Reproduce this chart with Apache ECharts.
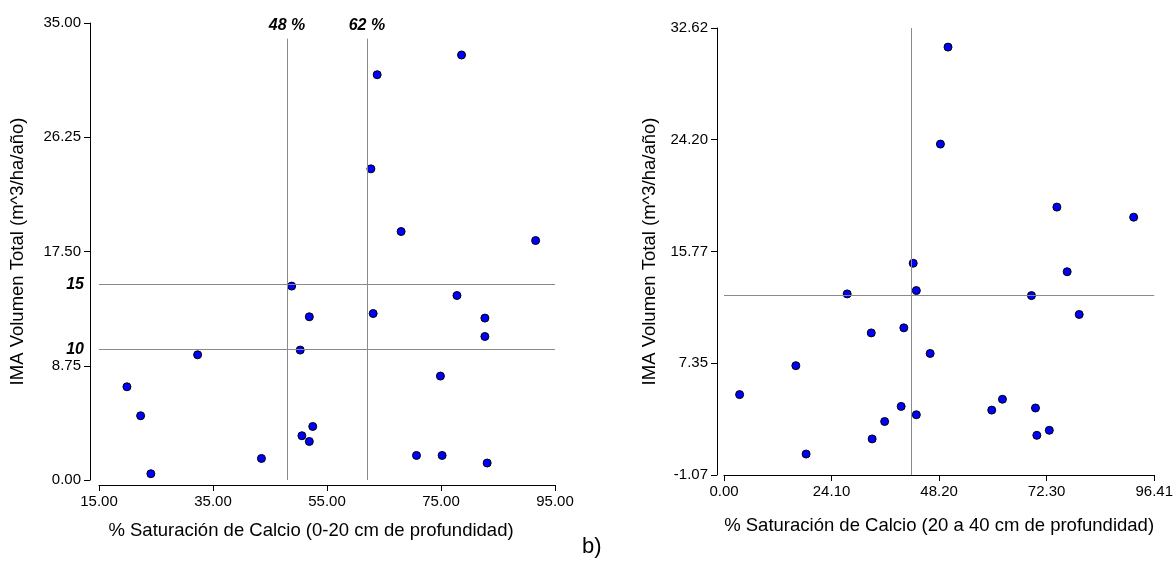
<!DOCTYPE html>
<html>
<head>
<meta charset="utf-8">
<script src="https://cdn.jsdelivr.net/npm/echarts@6/dist/echarts.min.js"></script>
<style>
html,body{margin:0;padding:0;background:#fff;}
#c{width:1176px;height:566px;}
</style>
</head>
<body>
<div id="c"></div>
<script>
// ---- Data ----
const leftX = [78.6, 63.8, 62.7, 68.0, 91.6, 48.8, 51.9, 63.1, 77.8, 82.7, 82.7, 50.3, 32.3, 19.9, 22.3, 24.1, 74.9, 52.5, 50.6, 51.9, 43.5, 70.7, 75.2, 83.1];
const leftY = [32.55, 31.04, 23.83, 19.03, 18.34, 14.85, 12.50, 12.75, 14.13, 12.40, 10.99, 9.95, 9.59, 7.14, 4.92, 0.48, 7.96, 4.10, 3.39, 2.95, 1.65, 1.88, 1.88, 1.30];
const rightX = [50.2, 48.5, 74.6, 91.8, 42.4, 76.9, 43.1, 27.6, 68.9, 79.6, 33.0, 40.3, 46.2, 16.1, 3.5, 39.7, 43.1, 36.0, 33.2, 18.4, 60.0, 62.4, 69.8, 72.9, 70.1];
const rightY = [31.18, 23.87, 19.12, 18.36, 14.89, 14.25, 12.83, 12.58, 12.45, 11.03, 9.64, 10.02, 8.09, 7.17, 4.99, 4.10, 3.47, 2.96, 1.65, 0.51, 3.82, 4.64, 3.98, 2.30, 1.92];

const leftXTicks = [15, 35, 55, 75, 95];
const leftYTicks = [0, 8.75, 17.5, 26.25, 35];
const rightXTicks = [0, 24.10, 48.20, 72.30, 96.41];
const rightYTicks = [-1.07, 7.35, 15.77, 24.20, 32.62];

const leftVLines = [48, 62];      // % thresholds
const leftVLineTop = 33.8;
const leftHLines = [15, 10];
const rightVLine = 42;
const rightHLine = 12.5;

const xTitleLeft = '% Saturación de Calcio (0-20 cm de profundidad)';
const xTitleRight = '% Saturación de Calcio (20 a 40 cm de profundidad)';
const yTitle = 'IMA Volumen Total (m^3/ha/año)';

// ---- Chart ----
const FONT = "'Liberation Sans', Arial, sans-serif";
const chart = echarts.init(document.getElementById('c'), null, {renderer: 'canvas'});

function valAxis(ticks, extra, nameStyle) {
  return Object.assign({
    type: 'value',
    min: ticks[0],
    max: ticks[ticks.length - 1],
    splitLine: {show: false},
    axisLine: {show: true, onZero: false, lineStyle: {color: '#000', width: 1}},
    axisTick: {show: true, customValues: ticks, length: 6, lineStyle: {color: '#000'}},
    axisLabel: {customValues: ticks, formatter: v => Number(v).toFixed(2), color: '#000',
                fontSize: 15, fontFamily: FONT, margin: 9},
    nameLocation: 'middle',
    nameTextStyle: Object.assign({color: '#000', fontSize: 18.5, fontFamily: FONT}, nameStyle || {})
  }, extra);
}

const lineStyle = {color: '#8a8a8a', width: 1, type: 'solid'};
const refLabel = {color: '#000', fontSize: 16, fontWeight: 'bold', fontStyle: 'italic', fontFamily: FONT};
const pointStyle = {color: '#0000ff', borderColor: '#000', borderWidth: 1, opacity: 1};

const option = {
  animation: false,
  backgroundColor: '#fff',
  grid: [
    {left: 99, right: 621, top: 23, bottom: 86},
    {left: 724, right: 21, top: 28, bottom: 91}
  ],
  xAxis: [
    valAxis(leftXTicks, {gridIndex: 0, offset: 5, name: xTitleLeft, nameGap: 36}, {padding: [0, 32, 0, 0]}),
    valAxis(rightXTicks, {gridIndex: 1, offset: 0, name: xTitleRight, nameGap: 41})
  ],
  yAxis: [
    valAxis(leftYTicks, {gridIndex: 0, offset: 9, name: yTitle, nameGap: 63}),
    valAxis(rightYTicks, {gridIndex: 1, offset: 7, name: yTitle, nameGap: 58})
  ],
  graphic: [
    {type: 'text', left: 582, top: 536, style: {text: 'b)', fontSize: 22, fontFamily: FONT, fill: '#000'}}
  ],
  series: [
    {
      type: 'scatter', xAxisIndex: 0, yAxisIndex: 0,
      data: leftX.map((x, i) => [x, leftY[i]]),
      symbolSize: 8,
      itemStyle: pointStyle,
      markLine: {
        silent: true, symbol: 'none', animation: false,
        lineStyle: lineStyle,
        data: [
          ...leftVLines.map(v => [
            {coord: [v, leftYTicks[0]], label: Object.assign({show: true, position: 'end', distance: 5, formatter: v + ' %'}, refLabel)},
            {coord: [v, leftVLineTop]}
          ]),
          ...leftHLines.map(v => [
            {coord: [leftXTicks[0], v], label: Object.assign({show: true, position: 'start', distance: 15, formatter: String(v)}, refLabel)},
            {coord: [leftXTicks[leftXTicks.length - 1], v]}
          ])
        ]
      }
    },
    {
      type: 'scatter', xAxisIndex: 1, yAxisIndex: 1,
      data: rightX.map((x, i) => [x, rightY[i]]),
      symbolSize: 8,
      itemStyle: pointStyle,
      markLine: {
        silent: true, symbol: 'none', animation: false,
        lineStyle: lineStyle,
        label: {show: false},
        data: [
          {xAxis: rightVLine},
          {yAxis: rightHLine}
        ]
      }
    }
  ]
};
chart.setOption(option);
</script>
</body>
</html>
